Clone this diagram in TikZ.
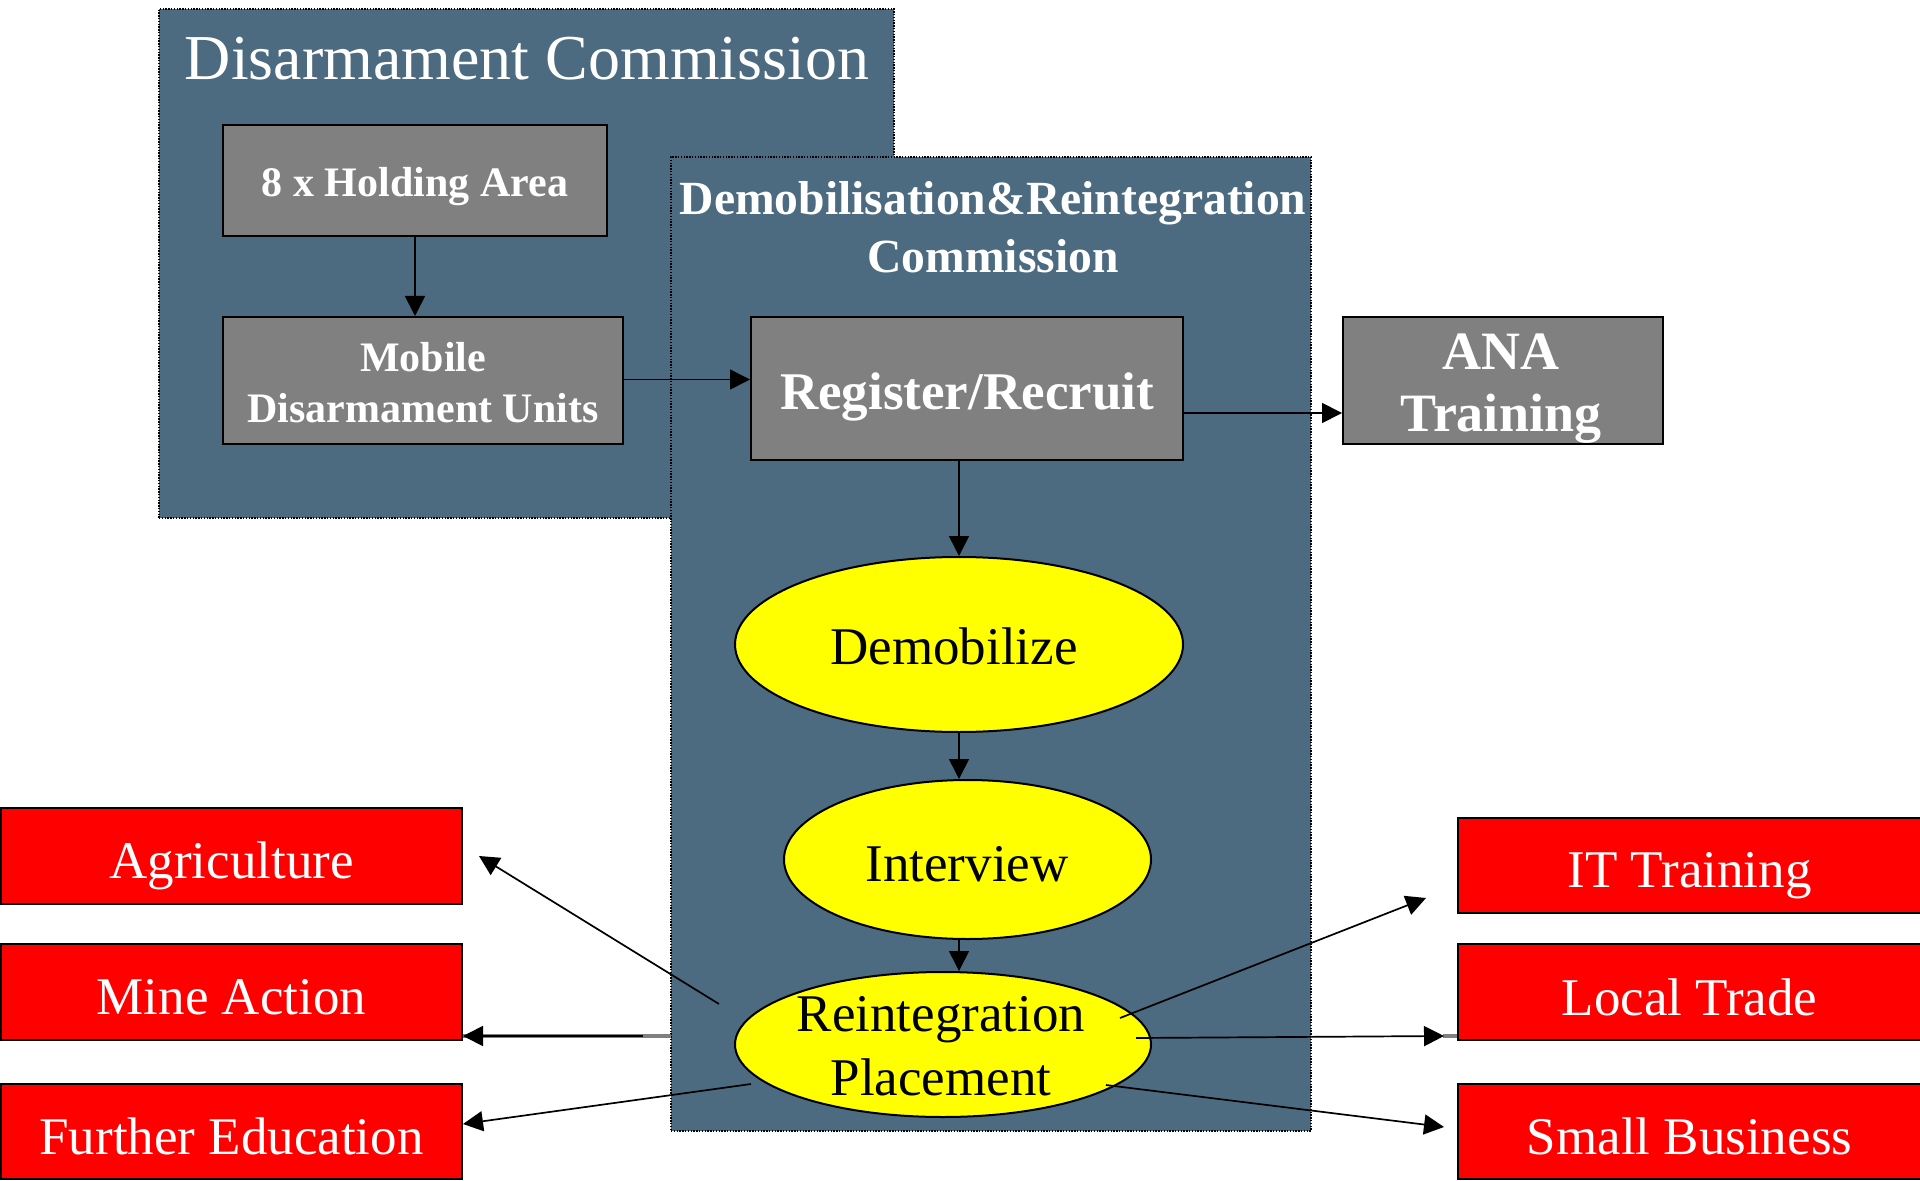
\documentclass[tikz,border=0pt]{standalone}
\usepackage{fontspec}
\setmainfont{Liberation Serif}
\usetikzlibrary{arrows.meta,shapes.geometric,calc}
\definecolor{commblue}{RGB}{76,107,128}
\definecolor{boxgray}{RGB}{128,128,128}
\definecolor{redbox}{RGB}{255,0,0}
\definecolor{yel}{RGB}{255,255,0}
\begin{document}
\begin{tikzpicture}[x=0.5pt,y=-0.5pt,
  commbox/.style={draw=black, line width=0.6pt, dash pattern=on 0.7pt off 0.7pt, fill=commblue, inner sep=0pt},
  graybox/.style={draw=black, line width=1pt, fill=boxgray, inner sep=0pt},
  redrect/.style={draw=black, line width=1pt, fill=redbox, inner sep=0pt, minimum width=230.5pt, minimum height=48pt},
  redtxt/.style={text=white, font=\fontsize{26.5}{32}\selectfont},
  yellip/.style={ellipse, draw=black, line width=1pt, fill=yel, inner sep=0pt},
  whitebold/.style={text=white, align=center, font=\bfseries\fontsize{21}{25.7}\selectfont},
  blacktxt/.style={text=black, align=center, font=\fontsize{26.5}{32}\selectfont},
  arr/.style={draw=black, line width=0.85pt, -{Triangle[length=10pt,width=10pt]}},
  graystub/.style={draw=boxgray, line width=1.6pt}
]
\useasboundingbox (0,0) rectangle (1920,1181);

% commission boxes
\node[commbox, minimum width=367.5pt, minimum height=254.5pt] (dc) at (526.5,263.5) {};
\node[text=white, font=\fontsize{32}{38}\selectfont] (dctitle) at (527,59) {Disarmament Commission};
\node[commbox, minimum width=320pt, minimum height=487pt] (drc) at (991,644) {};
\node[text=white, align=center, font=\bfseries\fontsize{23.8}{28.8}\selectfont] (drctitle) at (993,227)
  {Demobilisation\&Reintegration\\Commission};

% gray boxes
\node[graybox, minimum width=192pt, minimum height=55.5pt] (hold) at (415,180.5) {};
\node[whitebold, yshift=-3pt] (holdtxt) at (hold.center) {8 x Holding Area};
\node[graybox, minimum width=200pt, minimum height=63.5pt] (mobile) at (423,380.5) {};
\node[whitebold, yshift=-1pt] (mobiletxt) at (mobile.center) {Mobile\\Disarmament Units};
\node[graybox, minimum width=216pt, minimum height=71.5pt] (reg) at (967,388.5) {};
\node[text=white, font=\bfseries\fontsize{26.5}{32}\selectfont, yshift=-4.3pt] (regtxt) at (reg.center) {Register/Recruit};
\node[graybox, minimum width=160pt, minimum height=63.5pt] (ana) at (1503,380.5) {};
\node[text=white, align=center, font=\bfseries\fontsize{27}{31}\selectfont, yshift=-4.3pt, xshift=-1pt] (anatxt) at (ana.center) {ANA\\Training};

% ellipses
\node[yellip, minimum width=224pt, minimum height=87.5pt] (demob) at (959,644.5) {};
\node[blacktxt] (demobtxt) at (954,646) {Demobilize};
\node[yellip, minimum width=183.5pt, minimum height=79.5pt] (interview) at (967.5,859.5) {};
\node[blacktxt] (interviewtxt) at (967,864) {Interview};
\node[yellip, minimum width=208pt, minimum height=72.5pt] (reint) at (943,1044.5) {};
\node[blacktxt] (reinttxt) at (941,1046) {Reintegration\\Placement};

% red boxes
\node[redrect] (agri) at (231.5,856) {};
\node[redtxt, yshift=-4.9pt] (agritxt) at (agri.center) {Agriculture};
\node[redrect] (mine) at (231.5,992) {};
\node[redtxt, yshift=-2.5pt] (minetxt) at (mine.center) {Mine Action};
\node[redrect, minimum height=47.5pt] (fed) at (231.5,1131.5) {};
\node[redtxt, yshift=-2.5pt] (fedtxt) at (fed.center) {Further Education};
\node[redrect, minimum width=231.5pt, minimum height=47.5pt] (it) at (1689.5,865.5) {};
\node[redtxt, yshift=-4.9pt] (ittxt) at (it.center) {IT Training};
\node[redrect, minimum width=231.5pt] (local) at (1689.5,992) {};
\node[redtxt, yshift=-2.5pt] (localtxt) at (local.center) {Local Trade};
\node[redrect, minimum width=231.5pt, minimum height=47.5pt] (small) at (1689.5,1131.5) {};
\node[redtxt, yshift=-2.5pt] (smalltxt) at (small.center) {Small Business};

% arrows in the flow
\draw[arr] (hold.south) -- (hold.south |- mobile.north);
\draw[arr] ([yshift=0.5pt]mobile.east) -- ([yshift=0.5pt]mobile.east -| reg.west);
\draw[arr] ([yshift=-12.25pt]reg.east) -- ([yshift=-12.25pt]reg.east -| ana.west);
\draw[arr] (demob.north |- reg.south) -- (demob.north);
\draw[arr] (demob.south) -- (demob.south |- interview.north);
\draw[arr] (demob.south |- interview.south) -- (demob.south |- reint.north);

% outgoing placement arrows
\coordinate (sAgri) at (719,1004);
\coordinate (sMine) at (643,1036);
\coordinate (sMineG) at (671,1036);
\coordinate (sFed) at (751,1084);
\coordinate (sIT) at (1120,1018);
\coordinate (sLocal) at (1136,1038);
\coordinate (sSmall) at (1106,1085);

\draw[graystub] (sMineG) -- (sMineG -| mine.east);
\draw[arr] (sAgri) -- ([xshift=8pt]agri.east);
\draw[arr] (sMine) -- (sMine -| mine.east);
\draw[arr] (sFed) -- ([yshift=3.75pt]fed.east);
\draw[arr] (sIT) -- ([xshift=-15.5pt,yshift=-16.25pt]it.west);
\draw[graystub] ([xshift=-7pt,yshift=-22pt]local.west) -- ([yshift=-22pt]local.west);
\draw[arr] (sLocal) -- ([xshift=-6.5pt,yshift=-22pt]local.west);
\draw[arr] (sSmall) -- ([xshift=-6.5pt,yshift=2.25pt]small.west);
\end{tikzpicture}
\end{document}
